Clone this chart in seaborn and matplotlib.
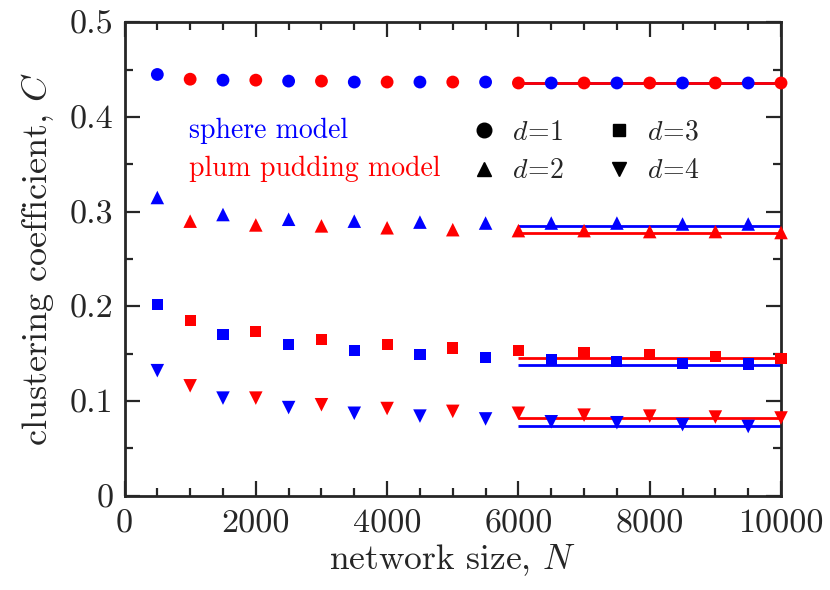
import matplotlib
matplotlib.use('Agg')
import matplotlib.pyplot as plt
import numpy as np
import pandas as pd
import seaborn as sns
from matplotlib.lines import Line2D
from matplotlib.ticker import MultipleLocator, FuncFormatter

# Dados
N_sphere = [500, 1500, 2500, 3500, 4500, 5500, 6500, 7500, 8500, 9500]
N_plum = [1000, 2000, 3000, 4000, 5000, 6000, 7000, 8000, 9000, 10000]

sphere_d1 = [0.445, 0.439, 0.438, 0.437, 0.437, 0.437, 0.436, 0.436, 0.436, 0.436]
sphere_d2 = [0.315, 0.297, 0.292, 0.290, 0.289, 0.288, 0.288, 0.288, 0.287, 0.287]
sphere_d3 = [0.202, 0.170, 0.160, 0.153, 0.149, 0.146, 0.144, 0.142, 0.140, 0.139]
sphere_d4 = [0.132, 0.103, 0.093, 0.087, 0.084, 0.081, 0.078, 0.077, 0.075, 0.073]

plum_d1 = [0.440, 0.439, 0.438, 0.437, 0.437, 0.436, 0.436, 0.436, 0.436, 0.436]
plum_d2 = [0.290, 0.286, 0.285, 0.283, 0.281, 0.280, 0.280, 0.279, 0.279, 0.278]
plum_d3 = [0.185, 0.173, 0.165, 0.160, 0.156, 0.153, 0.151, 0.149, 0.147, 0.145]
plum_d4 = [0.116, 0.103, 0.096, 0.092, 0.089, 0.087, 0.085, 0.084, 0.083, 0.082]

# Ajustes (retas horizontais) no intervalo de N grande
fit_range = [6000, 10000]
fit_sphere = [0.436, 0.285, 0.138, 0.074]
fit_plum = [0.436, 0.278, 0.145, 0.082]

dims = [1, 2, 3, 4]
markers = {1: 'o', 2: '^', 3: 's', 4: 'v'}
sizes = {1: 85, 2: 95, 3: 65, 4: 95}
colors = {'sphere': 'blue', 'plum': 'red'}

# Montar tabela longa
rows = []
for d, ys, yp in zip(dims, [sphere_d1, sphere_d2, sphere_d3, sphere_d4],
                     [plum_d1, plum_d2, plum_d3, plum_d4]):
    rows += [('sphere', d, n, c) for n, c in zip(N_sphere, ys)]
    rows += [('plum', d, n, c) for n, c in zip(N_plum, yp)]
df = pd.DataFrame(rows, columns=['model', 'd', 'N', 'C'])

sns.set_style('ticks')
plt.rcParams['font.family'] = 'serif'
plt.rcParams['font.serif'] = ['cmr10', 'DejaVu Serif']
plt.rcParams['mathtext.fontset'] = 'cm'
plt.rcParams['axes.formatter.use_mathtext'] = True

fig, ax = plt.subplots(figsize=(8.3, 5.9), dpi=100)
fig.subplots_adjust(left=0.150, right=0.941, top=0.962, bottom=0.160)

# Retas de ajuste
ax.hlines(fit_sphere, fit_range[0], fit_range[1], colors='blue', linewidth=2, zorder=2)
ax.hlines(fit_plum, fit_range[0], fit_range[1], colors='red', linewidth=2, zorder=2)

# Pontos
for d in dims:
    sns.scatterplot(data=df[df['d'] == d], x='N', y='C', hue='model', palette=colors,
                    marker=markers[d], s=sizes[d], linewidth=0, legend=False,
                    ax=ax, zorder=3, clip_on=False)

ax.set_xlim(0, 10000)
ax.set_ylim(0, 0.5)
ax.xaxis.set_major_locator(MultipleLocator(2000))
ax.xaxis.set_minor_locator(MultipleLocator(500))
ax.yaxis.set_major_locator(MultipleLocator(0.1))
ax.yaxis.set_minor_locator(MultipleLocator(0.05))
ax.yaxis.set_major_formatter(FuncFormatter(lambda v, p: '%g' % round(v, 2)))
ax.xaxis.set_major_formatter(FuncFormatter(lambda v, p: '%d' % v))

ax.tick_params(which='both', direction='in', top=True, right=True, width=1.6,
               labelsize=24.5)
ax.tick_params(axis='x', pad=10)
ax.tick_params(axis='y', pad=8)
ax.tick_params(which='major', length=11)
ax.tick_params(which='minor', length=5.5)
for sp in ax.spines.values():
    sp.set_linewidth(2)

ax.set_xlabel('network size, $N$', fontsize=25.5, labelpad=3)
ax.set_ylabel('clustering coefficient, $C$', fontsize=26, labelpad=10)

# Legenda dos modelos (texto colorido)
ax.text(0.098, 0.771, 'sphere model', color='blue', fontsize=20,
        transform=ax.transAxes, va='center', ha='left')
ax.text(0.098, 0.690, 'plum pudding model', color='red', fontsize=20,
        transform=ax.transAxes, va='center', ha='left')

# Legenda das dimensoes
handles = [Line2D([], [], linestyle='none', marker=markers[d], color='black',
                  markersize=10.5 if d != 3 else 9) for d in dims]
labels = [r'$d\!=\!%d$' % d for d in dims]
ax.legend(handles, labels, ncol=2, frameon=False, fontsize=20,
          loc='upper left', bbox_to_anchor=(0.526, 0.7955), borderaxespad=0,
          borderpad=0, handlelength=1, handletextpad=0.5, columnspacing=1.49,
          labelspacing=0.45)

fig.savefig('out.png', dpi=100)
